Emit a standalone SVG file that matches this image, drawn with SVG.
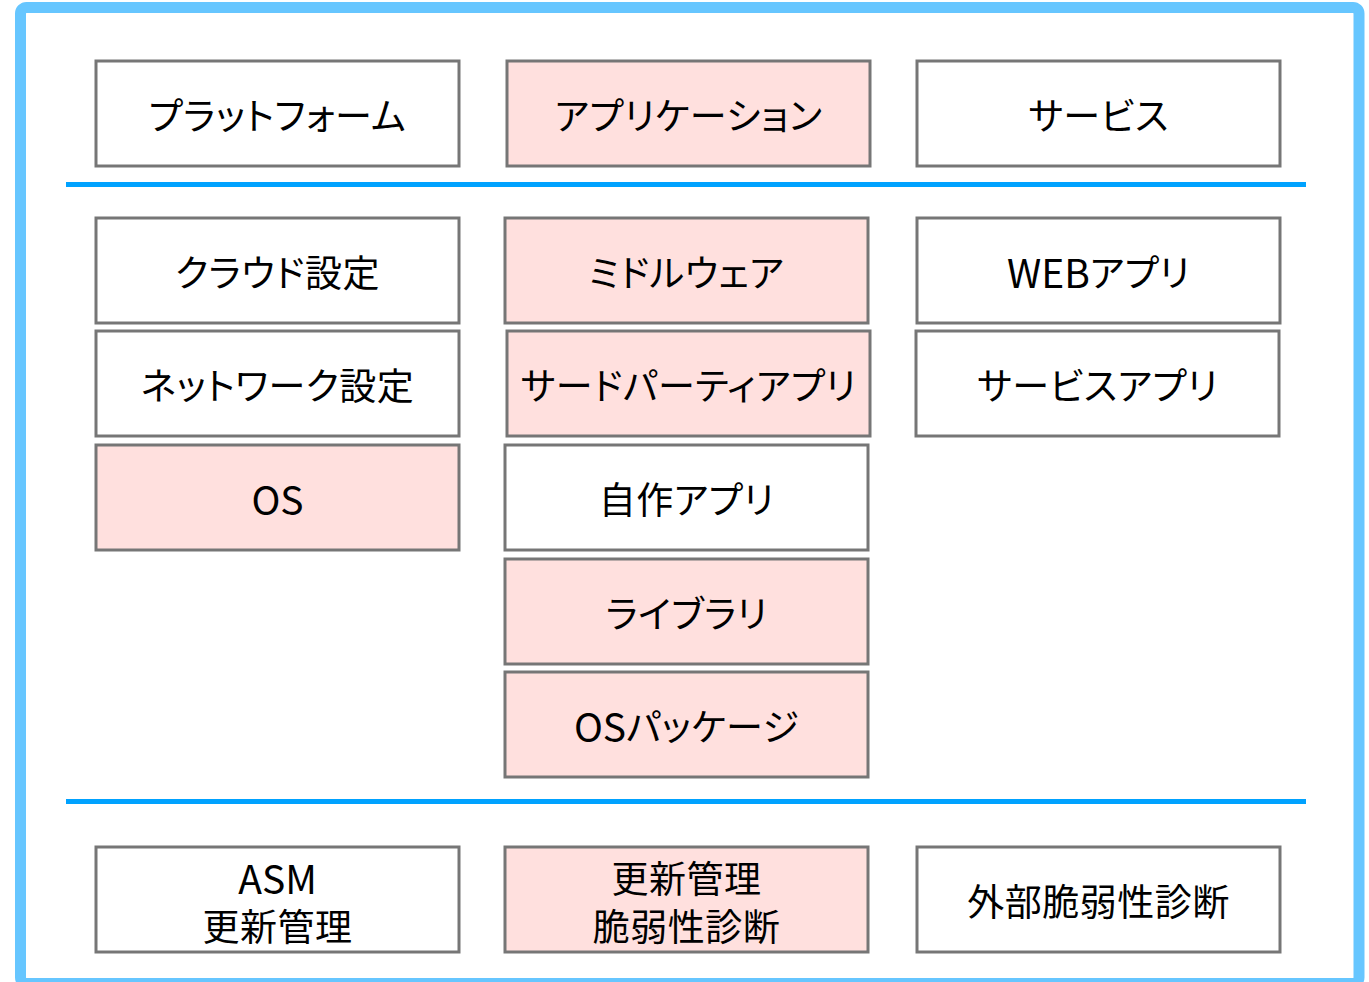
<svg xmlns="http://www.w3.org/2000/svg" width="1369" height="982" viewBox="0 0 1369 982">
<style>
.b{fill:#ffffff;stroke:#767676;stroke-width:3}
.p{fill:#ffe0de;stroke:#767676;stroke-width:3}
.t{font-family:"Noto Sans CJK JP","Noto Sans",sans-serif;font-size:37px;letter-spacing:0.5px;fill:#000;text-anchor:middle;dominant-baseline:central;font-feature-settings:"palt" 1}
.l{font-size:39px;letter-spacing:0}
.sep{stroke:#00a2ff;stroke-width:5}
</style>
<rect x="0" y="0" width="1369" height="982" fill="#ffffff"/>
<rect x="20.5" y="7.5" width="1338.5" height="976" rx="6" fill="none" stroke="#66c6ff" stroke-width="11"/>
<g id="connectors">
<line class="sep" x1="66" y1="184.5" x2="1306" y2="184.5"/>
<line class="sep" x1="66" y1="801.5" x2="1306" y2="801.5"/>
</g>
<g id="n1"><rect class="b" x="96" y="61" width="363" height="105"/><text class="t" x="277.5" y="113.5">プラットフォーム</text></g>
<g id="n2"><rect class="p" x="507" y="61" width="363" height="105"/><text class="t" x="688.5" y="113.5">アプリケーション</text></g>
<g id="n3"><rect class="b" x="917" y="61" width="363" height="105"/><text class="t" x="1098.5" y="113.5">サービス</text></g>
<g id="n4"><rect class="b" x="96" y="218" width="363" height="105"/><text class="t" x="277.5" y="270.5">クラウド設定</text></g>
<g id="n5"><rect class="b" x="96" y="331" width="363" height="105"/><text class="t" x="277.5" y="383.5">ネットワーク設定</text></g>
<g id="n6"><rect class="p" x="96" y="445" width="363" height="105"/><text class="t l" x="277.5" y="497.5">OS</text></g>
<g id="n7"><rect class="p" x="505" y="218" width="363" height="105"/><text class="t" x="686.5" y="270.5">ミドルウェア</text></g>
<g id="n8"><rect class="p" x="507" y="331" width="363" height="105"/><text class="t" x="688.5" y="383.5">サードパーティアプリ</text></g>
<g id="n9"><rect class="b" x="505" y="445" width="363" height="105"/><text class="t" x="686.5" y="497.5">自作アプリ</text></g>
<g id="n10"><rect class="p" x="505" y="559" width="363" height="105"/><text class="t" x="686.5" y="611.5">ライブラリ</text></g>
<g id="n11"><rect class="p" x="505" y="672" width="363" height="105"/><text class="t" x="686.5" y="724.5"><tspan class="l">OS</tspan>パッケージ</text></g>
<g id="n12"><rect class="b" x="917" y="218" width="363" height="105"/><text class="t" x="1098.5" y="270.5"><tspan class="l">WEB</tspan>アプリ</text></g>
<g id="n13"><rect class="b" x="916" y="331" width="363" height="105"/><text class="t" x="1097.5" y="383.5">サービスアプリ</text></g>
<g id="n14"><rect class="b" x="96" y="847" width="363" height="105"/><text class="t"><tspan class="l" x="277.5" y="877">ASM</tspan><tspan x="277.5" y="925">更新管理</tspan></text></g>
<g id="n15"><rect class="p" x="505" y="847" width="363" height="105"/><text class="t"><tspan x="686.5" y="877">更新管理</tspan><tspan x="686.5" y="925">脆弱性診断</tspan></text></g>
<g id="n16"><rect class="b" x="917" y="847" width="363" height="105"/><text class="t" x="1098.5" y="899.5">外部脆弱性診断</text></g>
</svg>
